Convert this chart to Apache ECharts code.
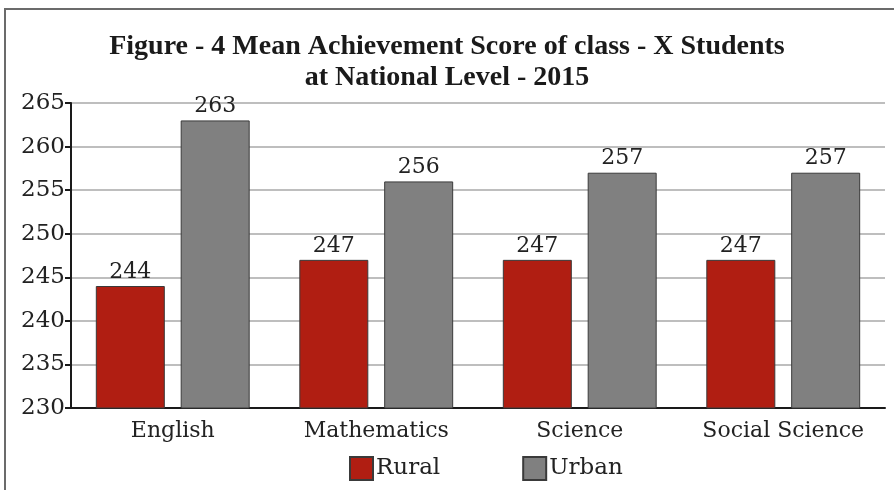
<!DOCTYPE html>
<html><head><meta charset="utf-8">
<script src="https://cdn.jsdelivr.net/npm/echarts@6/dist/echarts.min.js"></script>
<style>html,body{margin:0;padding:0;background:#fff}#c{width:894px;height:490px}</style>
</head><body><div id="c"></div>
<script>
const categories = ["English", "Mathematics", "Science", "Social Science"];
const rural = [244, 247, 247, 247];
const urban = [263, 256, 257, 257];
const yMin = 230, yMax = 265, yStep = 5;
const titleText = "Figure - 4 Mean Achievement Score of class - X Students\nat National Level - 2015";

const chart = echarts.init(document.getElementById('c'));
const serif = "DejaVu Serif";
chart.setOption({
  backgroundColor: '#fff',
  animation: false,
  graphic: [{
    type: 'rect', shape: {x: 5, y: 9, width: 1000, height: 1000},
    style: {fill: 'none', stroke: '#6b6b6b', lineWidth: 2}, silent: true, z: -1
  }],
  title: {
    text: titleText, left: 'center', top: 26,
    textStyle: {fontFamily: 'Liberation Serif', fontWeight: 'bold', fontSize: 28, lineHeight: 31, color: '#1a1a1a'}
  },
  legend: {
    bottom: 4, left: 344, itemWidth: 23, itemHeight: 23, itemGap: 82, icon: 'rect',
    textStyle: {fontFamily: serif, fontSize: 23, color: '#222', padding: [0,0,0,-2]},
    data: ['Rural', 'Urban']
  },
  grid: {left: 71, right: 9, top: 103, bottom: 82},
  xAxis: {
    type: 'category', data: categories,
    axisLine: {lineStyle: {color: '#1a1a1a', width: 2}},
    axisTick: {show: false},
    axisLabel: {interval: 0, fontFamily: serif, fontSize: 22, color: '#222', margin: 12}
  },
  yAxis: {
    type: 'value', min: yMin, max: yMax, interval: yStep,
    axisLine: {show: true, lineStyle: {color: '#1a1a1a', width: 2}},
    axisTick: {show: true, length: 6, lineStyle: {color: '#1a1a1a', width: 2}},
    axisLabel: {fontFamily: serif, fontSize: 23, color: '#222', margin: 6},
    splitLine: {lineStyle: {color: '#a8a8a8', width: 1.5}}
  },
  series: [
    {name: 'Rural', type: 'bar', data: rural, barWidth: 69, barGap: '23%',
     itemStyle: {color: '#b01e12', borderColor: '#3a3a3a', borderWidth: 1},
     label: {show: true, position: 'top', distance: 3, fontFamily: serif, fontSize: 22, color: '#222'}},
    {name: 'Urban', type: 'bar', data: urban, barWidth: 69, barGap: '23%',
     itemStyle: {color: '#808080', borderColor: '#3a3a3a', borderWidth: 1},
     label: {show: true, position: 'top', distance: 3, fontFamily: serif, fontSize: 22, color: '#222'}}
  ]
});
</script></body></html>
